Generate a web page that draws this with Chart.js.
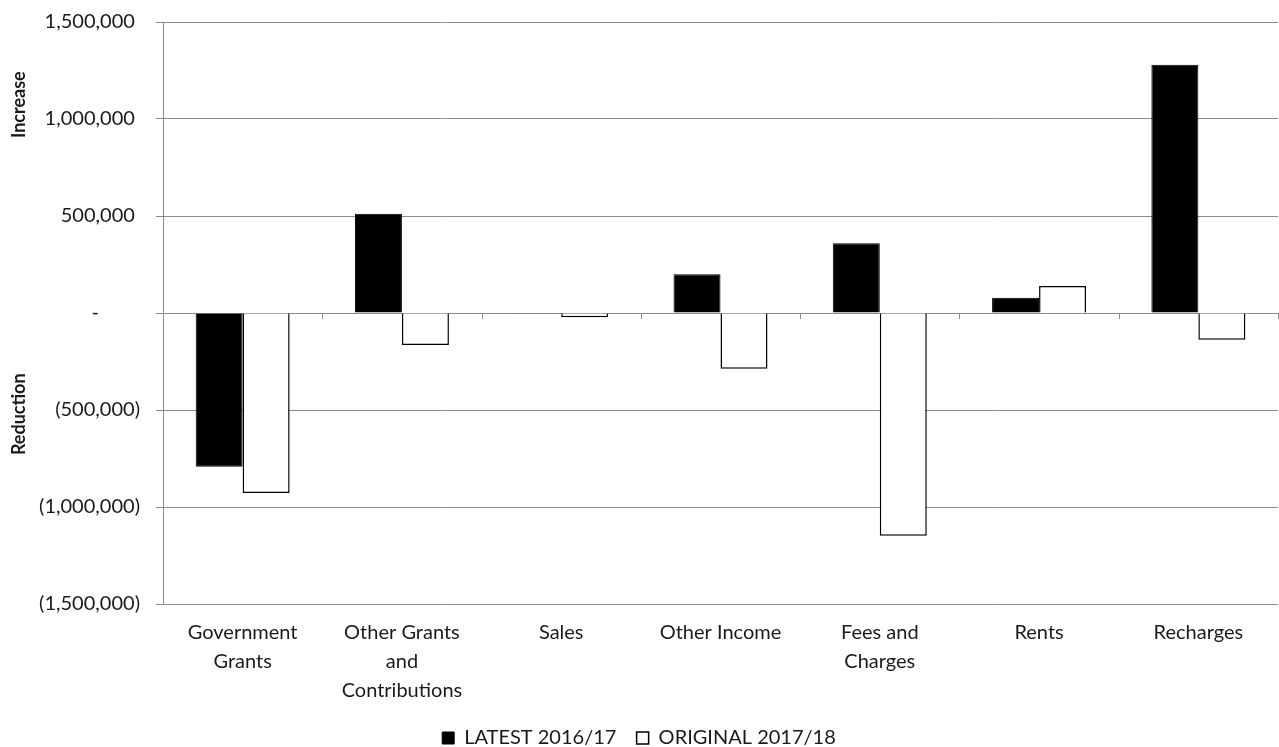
<!DOCTYPE html>
<html>
<head>
<meta charset="utf-8">
<script src="https://cdn.jsdelivr.net/npm/chart.js@4"></script>
<style>
  html, body { margin: 0; padding: 0; background: #fff; }
  #wrap { width: 1279px; height: 747px; }
</style>
</head>
<body>
<div id="wrap"><canvas id="chart" width="1279" height="747"></canvas></div>
<script>
const categories = [
  ['Government', 'Grants'],
  ['Other Grants', 'and', 'Contributions'],
  'Sales',
  'Other Income',
  ['Fees and', 'Charges'],
  'Rents',
  'Recharges'
];
const latest = [-792000, 511000, -4000, 200000, 360000, 78000, 1280000];
const original = [-928000, -165000, -22000, -287000, -1148000, 139000, -138000];
const yTicks = [-1500000, -1000000, -500000, 0, 500000, 1000000, 1500000];

const FONT = 'Lato';
const TEXT = '#1a1a1a';
const GRID = '#8c8c8c';

function fmt(v) {
  if (v === 0) return '-        ';
  if (v < 0) return '(' + Math.abs(v).toLocaleString('en-US') + ')';
  return v.toLocaleString('en-US') + ' ';
}

// side titles and the little tick marks sitting on the zero line
const extras = {
  id: 'extras',
  afterDatasetsDraw(chart) {
    const ctx = chart.ctx;
    const x = chart.scales.x, y = chart.scales.y;
    const area = chart.chartArea;
    const zero = y.getPixelForValue(0);
    ctx.save();
    ctx.strokeStyle = GRID;
    ctx.lineWidth = 1;
    for (let i = 1; i <= categories.length; i++) {
      const px = Math.round(x.getPixelForValue(i - 0.5)) + 0.5;
      ctx.beginPath();
      ctx.moveTo(px, zero);
      ctx.lineTo(px, zero + 6);
      ctx.stroke();
    }
    ctx.fillStyle = TEXT;
    ctx.font = 'bold 18px "' + FONT + '"';
    ctx.textAlign = 'center';
    ctx.textBaseline = 'middle';
    const h = area.bottom - area.top;
    [['Increase', 0.142], ['Reduction', 0.674]].forEach(([t, f]) => {
      ctx.save();
      ctx.translate(19, area.top + h * f);
      ctx.rotate(-Math.PI / 2);
      ctx.fillText(t, 0, 0);
      ctx.restore();
    });
    ctx.restore();
  }
};

new Chart(document.getElementById('chart'), {
  type: 'bar',
  data: {
    labels: categories,
    datasets: [
      {
        label: 'LATEST 2016/17',
        data: latest,
        backgroundColor: '#000',
        borderColor: '#000',
        borderWidth: 1,
        categoryPercentage: 0.59,
        barPercentage: 1.0
      },
      {
        label: 'ORIGINAL 2017/18',
        data: original,
        backgroundColor: '#fff',
        borderColor: '#000',
        borderWidth: 1.5,
        categoryPercentage: 0.59,
        barPercentage: 1.0
      }
    ]
  },
  options: {
    responsive: false,
    animation: false,
    layout: { padding: { top: 21, right: 1, bottom: -11, left: 0 } },
    plugins: {
      legend: {
        position: 'bottom',
        labels: {
          color: TEXT,
          font: { family: FONT, size: 20 },
          boxWidth: 12,
          boxHeight: 12,
          padding: 10,
          useBorderRadius: false,
          generateLabels(chart) {
            const items = Chart.defaults.plugins.legend.labels.generateLabels(chart);
            items[0].text += '  ';
            return items;
          }
        }
      },
      tooltip: { enabled: false }
    },
    scales: {
      x: {
        grid: { display: false },
        border: { display: false },
        ticks: {
          color: TEXT,
          font: { family: FONT, size: 20, lineHeight: 1.45 },
          maxRotation: 0,
          autoSkip: false,
          padding: 6
        },
        afterFit(scale) { scale.height = 114; }
      },
      y: {
        min: -1500000,
        max: 1500000,
        afterBuildTicks(scale) { scale.ticks = yTicks.map(v => ({ value: v })); },
        grid: { color: GRID, lineWidth: 1, tickLength: 7 },
        border: { color: GRID, width: 1 },
        ticks: {
          color: TEXT,
          font: { family: FONT, size: 20, lineHeight: 0.6 },
          padding: 16,
          callback: v => fmt(v)
        },
        afterFit(scale) { scale.width = 163; }
      }
    }
  },
  plugins: [extras]
});
</script>
</body>
</html>
